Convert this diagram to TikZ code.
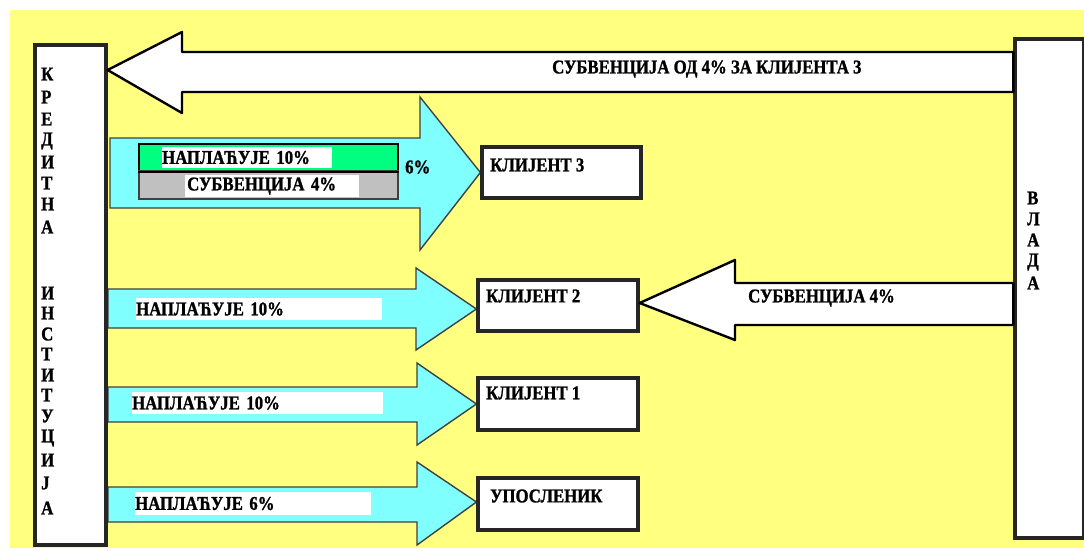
\documentclass[tikz,border=0pt]{standalone}
\usepackage{fontspec}
\setmainfont{Liberation Serif}[FakeStretch=0.86, BoldFeatures={FakeBold=1.2}]
\definecolor{bgyellow}{HTML}{FFFF80}
\definecolor{arrcyan}{HTML}{80FFFF}
\definecolor{bargreen}{HTML}{00FF80}
\definecolor{bargray}{HTML}{C0C0C0}
\definecolor{edgegray}{HTML}{404040}
\tikzset{
  txt/.style={font=\bfseries\fontsize{19.5}{20}\selectfont, inner sep=0pt, anchor=west},
  box/.style={draw=black!85, line width=3.2pt, fill=white, inner sep=0pt},
  cyanarrow/.style={fill=arrcyan, draw=edgegray, line width=1.4pt, line join=miter},
  whitearrow/.style={fill=white, draw=black, line width=2.4pt, line join=round},
  lbl/.style={fill=white, font=\bfseries\fontsize{19.5}{20}\selectfont, inner sep=0pt, anchor=west, align=left}
}
\begin{document}
\begin{tikzpicture}[x=1pt,y=-1pt]
\useasboundingbox (0,0) rectangle (1084,550);
\fill[white] (0,0) rectangle (1084,550);
\fill[bgyellow] (10,10) rectangle (1084,548);

% boxes (nodes)
\node[box, minimum width=71pt, minimum height=500pt] (inst) at (70.5,295) {};
\node[box, minimum width=159pt, minimum height=51pt] (k3) at (561.5,172.5) {};
\node[box, minimum width=160pt, minimum height=51pt] (k2) at (558,305.5) {};
\node[box, minimum width=160pt, minimum height=52pt] (k1) at (558,404) {};
\node[box, minimum width=160pt, minimum height=52pt] (ups) at (558,504) {};

% cyan arrows
\draw[cyanarrow] (110,138) -- (420,138) -- (420,97) -- (k3.west) -- (420,250) -- (420,208) -- (110,208) -- cycle;
\draw[cyanarrow] (108,289) -- (416,289) -- (416,268) -- (k2.west |- 0,309) -- (416,350) -- (416,328) -- (108,328) -- cycle;
\draw[cyanarrow] (108,387) -- (417,387) -- (417,363) -- (k1.west) -- (417,445) -- (417,422) -- (108,422) -- cycle;
\draw[cyanarrow] (108,487) -- (417,487) -- (417,462) -- (ups.west |- 0,502) -- (417,545) -- (417,522) -- (108,522) -- cycle;

% redraw boxes on top
\node[box, minimum width=71pt, minimum height=500pt] (instb) at (inst.center) {};
\node[box, minimum width=159pt, minimum height=51pt] (k3b) at (k3.center) {};
\node[box, minimum width=160pt, minimum height=51pt] (k2b) at (k2.center) {};
\node[box, minimum width=160pt, minimum height=52pt] (k1b) at (k1.center) {};
\node[box, minimum width=160pt, minimum height=52pt] (upsb) at (ups.center) {};

% government box (clipped at right edge)
\begin{scope}
\clip (0,0) rectangle (1084,550);
\node[box, minimum width=69pt, minimum height=499pt] (vlada) at (1049.5,288.5) {};
\end{scope}

% white arrows
\draw[whitearrow] (vlada.west |- 0,52) -- (182,52) -- (182,32) -- (inst.east |- 0,70) -- (182,113) -- (182,92) -- (vlada.west |- 0,92) -- cycle;
\draw[whitearrow] (vlada.west |- 0,283) -- (735,283) -- (735,260) -- (k2.east |- 0,303) -- (735,340) -- (735,325) -- (vlada.west |- 0,325) -- cycle;

% bars inside Klijent 3 arrow
\node[fill=bargreen, draw=black, line width=2.2pt, minimum width=259pt, minimum height=27pt, inner sep=0pt] (gbar) at (268.5,157.5) {};
\node[fill=bargray, draw=edgegray, line width=1.6pt, minimum width=259pt, minimum height=28pt, inner sep=0pt] (sbar) at (268.5,185) {};
\draw[black, line width=2.2pt] (gbar.south west) -- (gbar.south east);
\node[lbl, minimum height=21pt, text width=170pt] (g3) at (162,157.5) {НАПЛАЋУЈЕ 10\%};
\node[lbl, minimum height=22pt, text width=174pt] (s3) at (185,186) {\hspace*{2pt}СУБВЕНЦИЈА 4\%};
\node[txt] (p6) at (405,167) {6\%};

% labels in other cyan arrows
\node[lbl, minimum height=22pt, text width=246pt] (n2) at (136,309) {НАПЛАЋУЈЕ 10\%};
\node[lbl, minimum height=22pt, text width=251pt] (n1) at (132,403) {НАПЛАЋУЈЕ 10\%};
\node[lbl, minimum height=23pt, text width=236pt] (n0) at (135,503.5) {НАПЛАЋУЈЕ 6\%};

% box texts
\node[txt] (k3t) at (490,165) {КЛИЈЕНТ 3};
\node[txt] (k2t) at (486,296) {КЛИЈЕНТ 2};
\node[txt] (k1t) at (486,393) {КЛИЈЕНТ 1};
\node[txt] (upst) at (490,496) {УПОСЛЕНИК};

% arrow texts
\node[txt] (top) at (552,69) {СУБВЕНЦИЈА ОД 4\% ЗА КЛИЈЕНТА 3};
\node[txt] (s4) at (748,298) {СУБВЕНЦИЈА 4\%};

% vertical texts
\foreach \c/\yy [count=\i] in {К/74,Р/97,Е/119,Д/141,И/162,Т/183,Н/204,А/227,И/293,Н/313,С/334,Т/354,И/375,Т/395,У/416,Ц/438,И/460,Ј/483,А/508}
  \node[txt] (ki\i) at (41,\yy) {\c};
\foreach \c/\yy [count=\i] in {В/198,Л/219,А/240,Д/262,А/283}
  \node[txt] (vl\i) at (1027,\yy) {\c};
\end{tikzpicture}
\end{document}
